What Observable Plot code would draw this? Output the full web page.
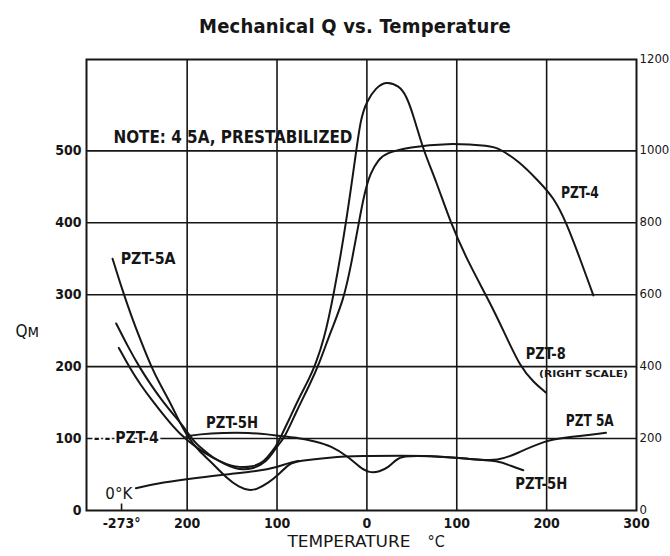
<!DOCTYPE html>
<html><head><meta charset="utf-8">
<script src="https://cdn.jsdelivr.net/npm/d3@7"></script>
<script src="https://cdn.jsdelivr.net/npm/@observablehq/plot@0.6"></script>
<style>
body{margin:0;background:#fff;font-family:"DejaVu Sans Condensed","DejaVu Sans",sans-serif;font-stretch:condensed;}
#title{height:45px;width:670px;text-align:center;font-weight:bold;font-size:20px;line-height:1;padding-top:16px;padding-left:40px;box-sizing:border-box;color:#161616;letter-spacing:0.2px}
</style></head><body>
<div id="title">Mechanical Q vs. Temperature</div>
<div id="chart"></div>
<script>
// ---- axis / tick data ----
const yTop = 627;                       // left-scale value at the top edge of the frame
const leftTicks = [0, 100, 200, 300, 400, 500];
const rightTickLabels = [0, 200, 400, 600, 800, 1000, 1200];
const xTicks = [-273, -200, -100, 0, 100, 200, 300];
const xTickLabels = ["-273°", "200", "100", "0", "100", "200", "300"];
const gridX = [-200, -100, 0, 100, 200];
const gridY = [100, 200, 300, 400, 500];

// ---- curves (temperature °C, QM) ----
// PZT-5A (left scale)
const pzt5A_T = [-283,-272,-262,-251,-240,-230,-220,-210,-200,-187,-172,-156,-142,-131,-123,-109,-98,-87,-76,-42,-6,40,69,113,147,169,199,217,266];
const pzt5A_Q = [350,306,270,234,200,175,153,127,103,83,66,45,32,28,29,39,50,65,69,74,76,76,76,72,68,81,97,101,108];
// PZT-4 (left scale)
const pzt4_T = [-279,-266,-253,-240,-228,-215,-203,-194,-183,-172,-159,-146,-137,-128,-118,-109,-98,-92,-78,-64,-53,-40,-26,-17,-9,-3,4,13,21,47,88,139,147,169,191,208,222,236,250,252];
const pzt4_Q = [260,228,199,174,153,133,115,98,85,74,65,58,57,58,63,72,93,100,139,174,204,250,292,345,400,440,470,488,497,505,511,507,503,486,458,435,400,354,306,299];
// PZT-8 (right scale)
const pzt8_T = [-276,-264,-252,-239,-224,-209,-190,-170,-156,-146,-137,-128,-118,-111,-101,-98,-87,-76,-64,-57,-48,-37,-23,-12,-7,0,10,21,36,44,52,63,77,93,113,136,152,171,186,199];
const pzt8_R = [452,397,350,306,258,214,175,144,128,122,120,122,130,147,178,194,250,311,367,408,472,597,800,997,1089,1139,1175,1194,1181,1153,1097,1000,917,800,689,583,500,397,356,328];
// PZT-5H (left scale)
const pzt5H_T = [-201,-187,-160,-131,-110,-94,-76,-58,-40,-20,-8,3,14,24,32,39,69,113,147,160,174];
const pzt5H_Q = [103,106,108,108,106,103,101,96,90,74,60,52,54,60,70,76,76,72,69,62,56];
// low-temperature branch starting at 0 °K (left scale)
const zeroK_T = [-257,-228,-187,-150,-120,-101,-87,-76];
const zeroK_Q = [31,39,46,51,55,60,66,69];

// ---- annotation texts ----
const labels = [
  {text: "NOTE: 4 5A, PRESTABILIZED", T: -282, Q: 519, anchor: "start", size: 18, weight: "bold", len: 239},
  {text: "PZT-5A", T: -274, Q: 350, anchor: "start", size: 15, weight: "bold", len: 55},
  {text: "- - PZT-4", T: -304, Q: 100, anchor: "start", size: 15, weight: "bold", len: 65, halo: true},
  {text: "PZT-5H", T: -150, Q: 122, anchor: "middle", size: 15, weight: "bold", len: 55},
  {text: "PZT-4", T: 237, Q: 441, anchor: "middle", size: 15, weight: "bold", len: 38},
  {text: "PZT-8", T: 199, Q: 218, anchor: "middle", size: 15, weight: "bold", len: 40},
  {text: "(RIGHT SCALE)", T: 241, Q: 189, anchor: "middle", size: 9, weight: "bold", len: 89},
  {text: "PZT 5A", T: 248, Q: 124, anchor: "middle", size: 15, weight: "bold", len: 48},
  {text: "PZT-5H", T: 194, Q: 36, anchor: "middle", size: 15, weight: "bold", len: 52},
  {text: "0°K", T: -276, Q: 22, anchor: "middle", size: 15, weight: "normal", len: 27},
  {text: "Qᴍ", T: -378, Q: 249, anchor: "middle", size: 17, weight: "normal", len: 0},
  {text: "TEMPERATURE", T: -20, Q: -43, anchor: "middle", size: 16, weight: "normal", len: 123},
  {text: "°C", T: 77, Q: -43, anchor: "middle", size: 16, weight: "normal", len: 0}
];

const rows = (name, T, V, k = 1) => T.map((t, i) => ({name, T: t, Q: V[i] / k}));
const curves = [
  rows("PZT-5A", pzt5A_T, pzt5A_Q),
  rows("PZT-4", pzt4_T, pzt4_Q),
  rows("PZT-8", pzt8_T, pzt8_R, 2),
  rows("PZT-5H", pzt5H_T, pzt5H_Q),
  rows("0K", zeroK_T, zeroK_Q)
];

const rightVals = rightTickLabels.map(v => v === 1200 ? yTop : v / 2);
const rightFmt = new Map(rightVals.map((v, i) => [v, String(rightTickLabels[i])]));
const xFmt = new Map(xTicks.map((v, i) => [v, xTickLabels[i]]));
const ink = "#161616";
const font = '"DejaVu Sans Condensed","DejaVu Sans",sans-serif';

const chart = Plot.plot({
  width: 670, height: 511,
  marginLeft: 86, marginRight: 34, marginTop: 14, marginBottom: 46,
  x: {domain: [-312, 300], label: null},
  y: {domain: [0, yTop], label: null},
  style: {fontFamily: font, fontStretch: "condensed", fontSize: "12px", color: ink, background: "white"},
  marks: [
    Plot.ruleY(gridY, {stroke: ink, strokeWidth: 1.6}),
    Plot.ruleX(gridX, {stroke: ink, strokeWidth: 1.6}),
    Plot.ruleX([-273], {y1: 0, y2: 9, stroke: ink, strokeWidth: 1.6}),
    Plot.frame({stroke: ink, strokeWidth: 2}),
    ...curves.map(c => Plot.line(c, {x: "T", y: "Q", stroke: ink, strokeWidth: 2, curve: "basis"})),
    Plot.axisY(leftTicks, {anchor: "left", tickSize: 0, tickPadding: 5, fontSize: 14, fontWeight: "bold"}),
    Plot.axisY(rightVals, {anchor: "right", tickSize: 0, tickPadding: 3, fontSize: 13, dy: -1, tickFormat: d => rightFmt.get(d)}),
    Plot.axisX(xTicks, {anchor: "bottom", tickSize: 0, tickPadding: 8, fontSize: 14, fontWeight: "bold", tickFormat: d => xFmt.get(d)}),
    ...labels.map(l => Plot.text([l], {
      x: "T", y: "Q", text: "text", textAnchor: l.anchor, fontSize: l.size, fontWeight: l.weight,
      fill: ink, stroke: l.halo ? "white" : null, strokeWidth: l.halo ? 4 : null
    }))
  ]
});
// stretch the hand-lettered annotations to the widths they have in the original
const lengths = new Map(labels.map(l => [l.text, l.len]));
d3.select(chart).selectAll("text").each(function () {
  const len = lengths.get(this.textContent);
  if (len) {
    this.setAttribute("textLength", len);
    this.setAttribute("lengthAdjust", "spacingAndGlyphs");
  }
});
document.getElementById("chart").appendChild(chart);
</script>
</body></html>
